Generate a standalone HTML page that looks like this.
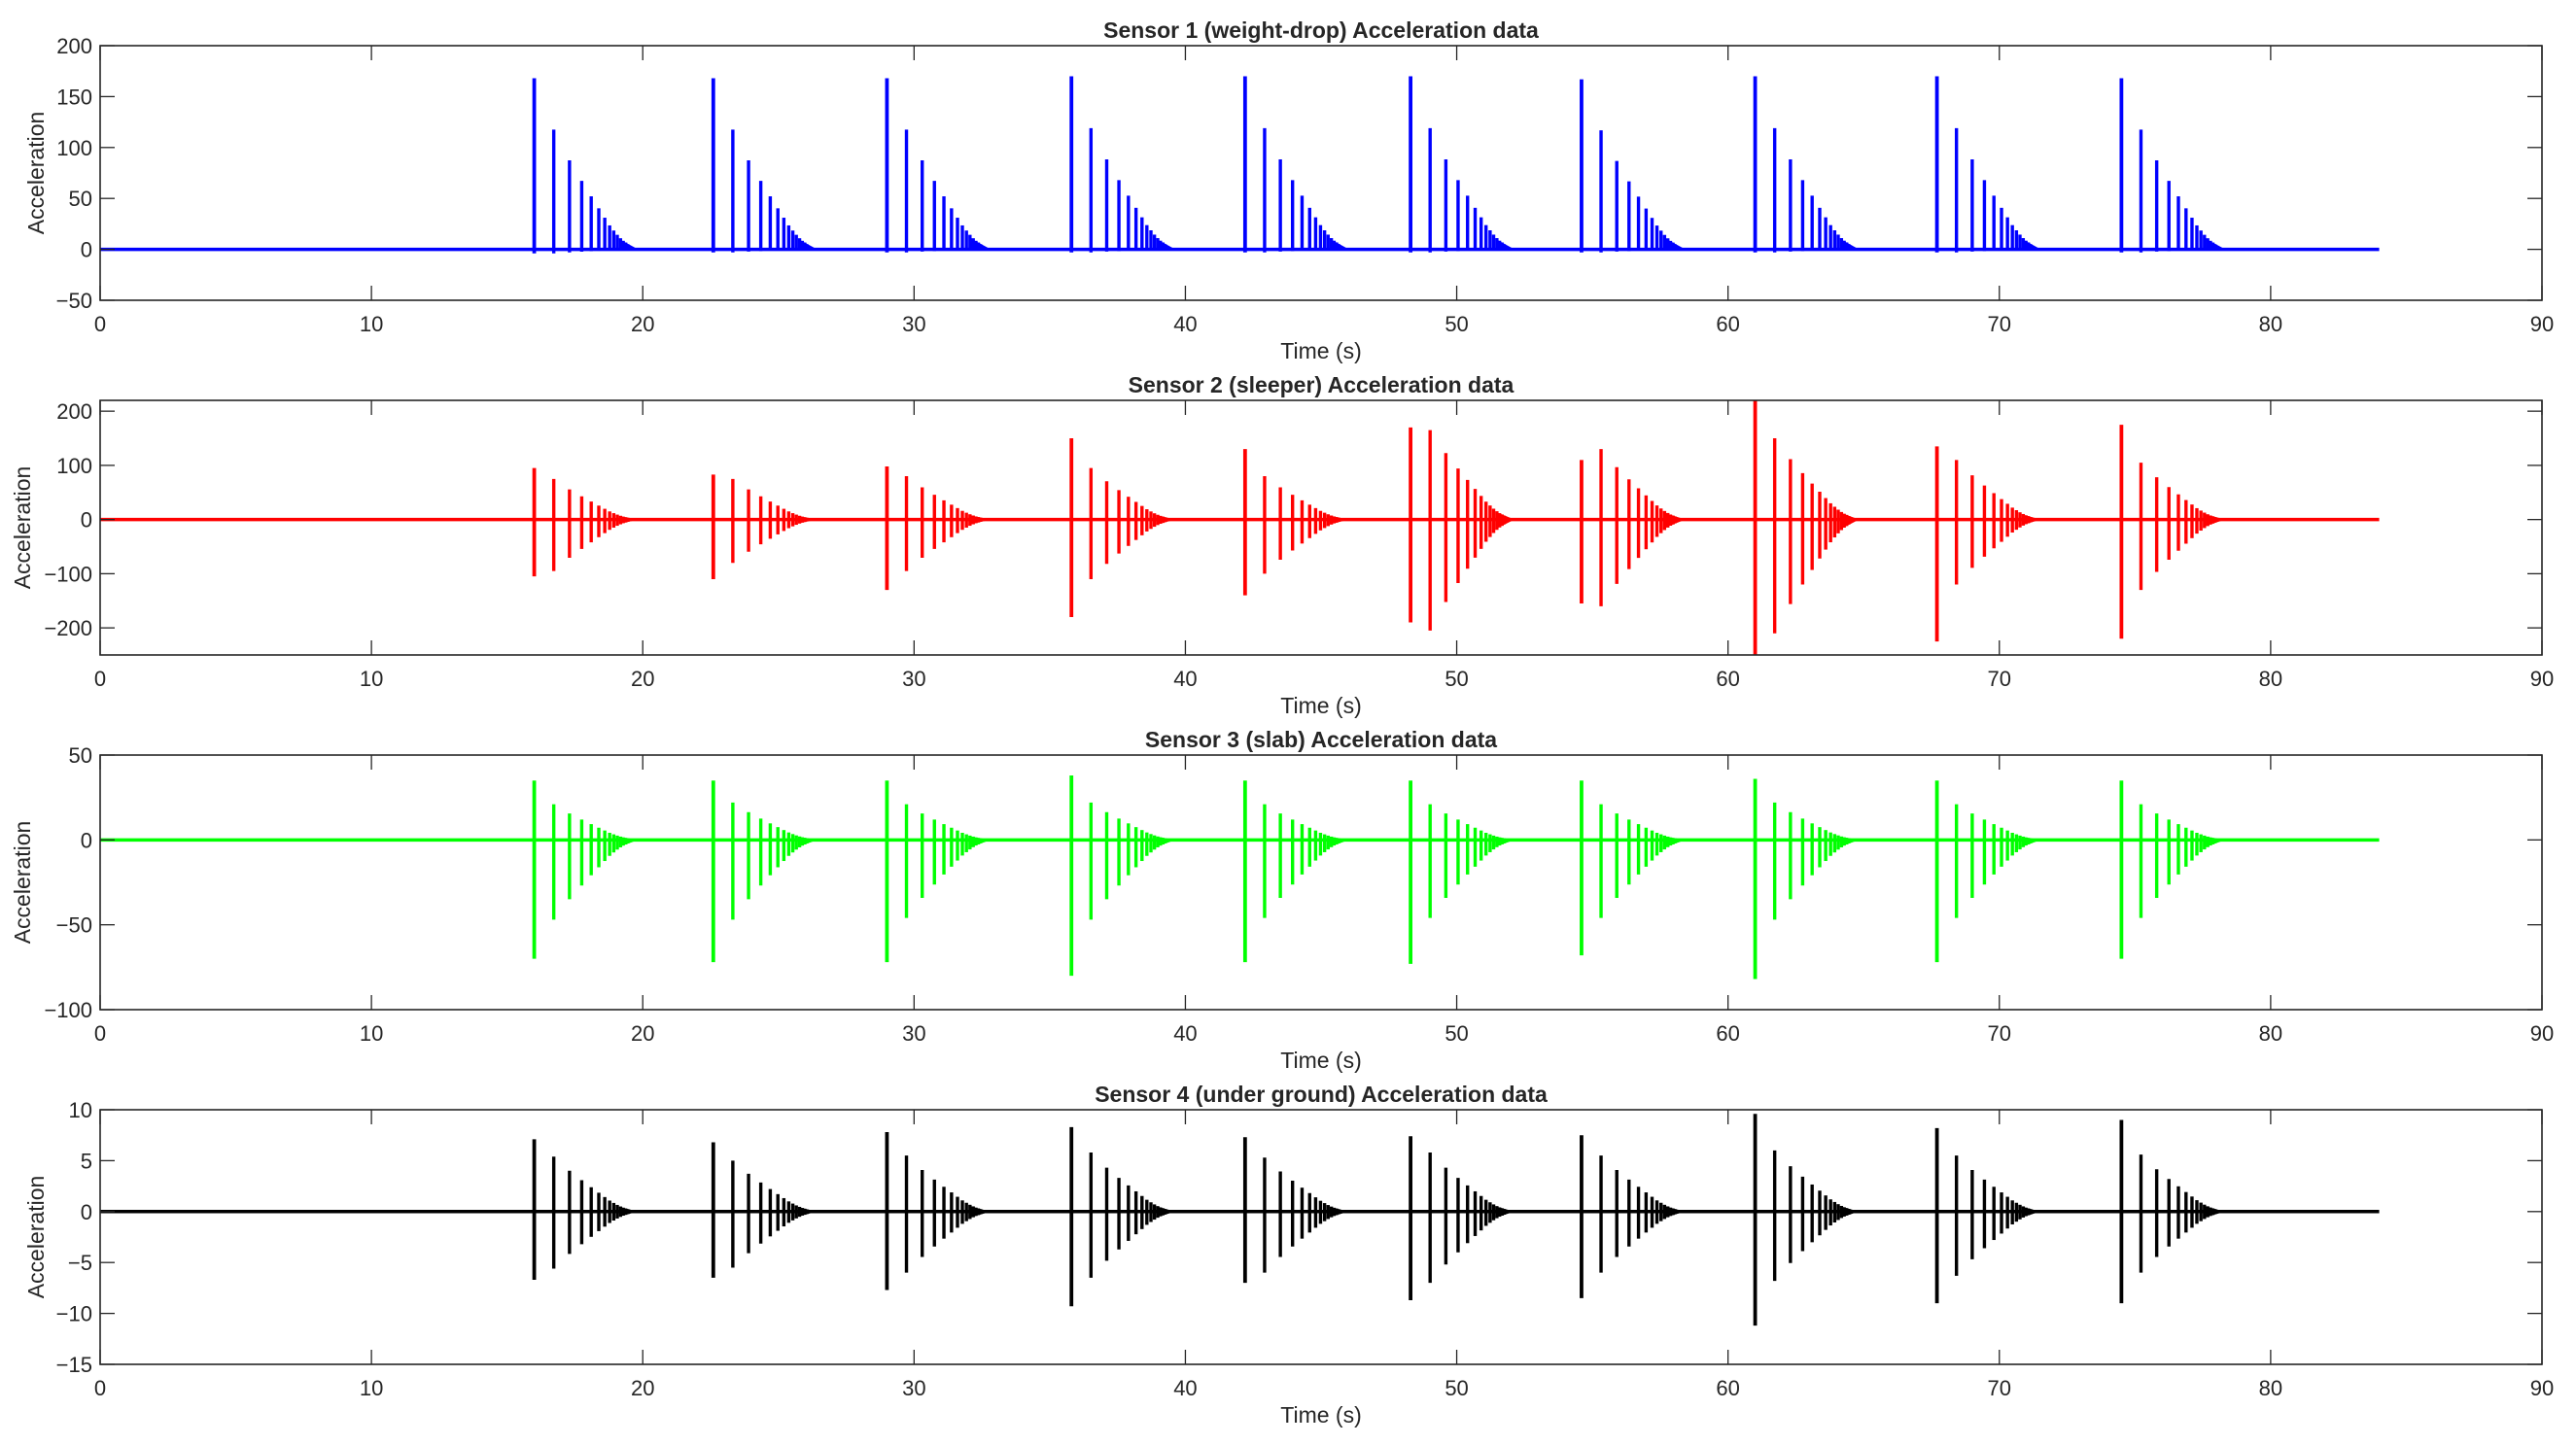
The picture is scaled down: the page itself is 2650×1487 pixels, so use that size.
<!DOCTYPE html>
<html><head><meta charset="utf-8">
<style>
html,body{margin:0;padding:0;background:#fff;}
svg{display:block;}
text{font-family:"Liberation Sans",Arial,sans-serif;fill:#262626;}
</style></head>
<body>
<svg id="fig" width="2650" height="1487" viewBox="0 0 2650 1487" xmlns="http://www.w3.org/2000/svg"></svg>
<script>
// ---- data ----
const eventTimes = [16.0, 22.6, 29.0, 35.8, 42.2, 48.3, 54.6, 61.0, 67.7, 74.5];
const bounceOffsets = [0, 0.72, 1.3, 1.75, 2.1, 2.38, 2.6, 2.78, 2.93, 3.06, 3.18, 3.28, 3.37, 3.45, 3.52, 3.58];
const bounceShape = [1, 0.70, 0.52, 0.40, 0.31, 0.24, 0.185, 0.14, 0.11, 0.085, 0.065, 0.05, 0.04, 0.03, 0.02, 0.015];
const s1Pos = [168, 168, 168, 170, 170, 170, 167, 170, 170, 168];
const s1Neg = [-4, -3, -3, -3, -3, -3, -3, -3, -3, -3];
const s2Pos = [95, 83, 98, 150, 130, 170, 110, 220, 135, 175];
const s2Neg = [-105, -110, -130, -180, -140, -190, -155, -250, -225, -220];
const s2BouncePos = [75, 75, 80, 95, 80, 165, 130, 150, 110, 105];
const s2BounceNeg = [-95, -80, -95, -110, -100, -205, -160, -210, -120, -130];
const s3Pos = [35, 35, 35, 38, 35, 35, 35, 36, 35, 35];
const s3Neg = [-70, -72, -72, -80, -72, -73, -68, -82, -72, -70];
const s3BouncePos = [21, 22, 21, 22, 21, 21, 21, 22, 21, 21];
const s3BounceNeg = [-47, -47, -46, -47, -46, -46, -46, -47, -46, -46];
const s4Pos = [7.1, 6.8, 7.8, 8.3, 7.3, 7.4, 7.5, 9.6, 8.2, 9.0];
const s4Neg = [-6.7, -6.5, -7.7, -9.3, -7.0, -8.7, -8.5, -11.2, -9.0, -9.0];
const s4BouncePos = [5.4, 5.0, 5.5, 5.8, 5.3, 5.8, 5.5, 6.0, 5.5, 5.6];
const s4BounceNeg = [-5.6, -5.5, -6.0, -6.5, -6.0, -7.0, -6.0, -6.8, -6.3, -6.0];
const xTicks = [0, 10, 20, 30, 40, 50, 60, 70, 80, 90];
const dataEnd = 84;

const panels = [
  {title:"Sensor 1 (weight-drop) Acceleration data", color:"#0000ff", ymin:-50, ymax:200, yticks:[-50,0,50,100,150,200],
   pos:s1Pos, neg:s1Neg, bpos:s1Pos.map(v=>v*0.70), bneg:s1Neg, top:47, name:"sensor1"},
  {title:"Sensor 2 (sleeper) Acceleration data", color:"#ff0000", ymin:-250, ymax:220, yticks:[-200,-100,0,100,200],
   pos:s2Pos, neg:s2Neg, bpos:s2BouncePos, bneg:s2BounceNeg, top:412, name:"sensor2"},
  {title:"Sensor 3 (slab) Acceleration data", color:"#00ff00", ymin:-100, ymax:50, yticks:[-100,-50,0,50],
   pos:s3Pos, neg:s3Neg, bpos:s3BouncePos, bneg:s3BounceNeg, top:777, name:"sensor3"},
  {title:"Sensor 4 (under ground) Acceleration data", color:"#000000", ymin:-15, ymax:10, yticks:[-15,-10,-5,0,5,10],
   pos:s4Pos, neg:s4Neg, bpos:s4BouncePos, bneg:s4BounceNeg, top:1142, name:"sensor4"}
];

const NS="http://www.w3.org/2000/svg";
const svg=document.getElementById('fig');
const L=103, R=2615, H=262, XMIN=0, XMAX=90, TK=15;
function xs(v){return L+(v-XMIN)/(XMAX-XMIN)*(R-L);}
function mk(tag,attrs,parent){const e=document.createElementNS(NS,tag);for(const k in attrs)e.setAttribute(k,attrs[k]);(parent||svg).appendChild(e);return e;}

panels.forEach((p,pi)=>{
  const T=p.top, B=T+H;
  const ys=v=>B-(v-p.ymin)/(p.ymax-p.ymin)*H;
  const g=mk('g',{});
  
  
  const clipId='clip'+pi;
  const cp=mk('clipPath',{id:clipId},g);
  mk('rect',{x:L,y:T,width:R-L,height:H},cp);
  const sg=mk('g',{'clip-path':'url(#'+clipId+')',stroke:p.color,fill:'none'},g);
  
  
  const base=mk('line',{x1:xs(0),x2:xs(dataEnd),y1:ys(0),y2:ys(0),'stroke-width':3.5},sg);
  
  
  eventTimes.forEach((t,ei)=>{
    bounceOffsets.forEach((o,bi)=>{
      let hi, lo;
      if(bi===0){hi=p.pos[ei];lo=p.neg[ei];}
      else{hi=p.bpos[ei]*bounceShape[bi]/bounceShape[1];lo=p.bneg[ei]*bounceShape[bi]/bounceShape[1];}
      const ln=mk('line',{x1:xs(t+o),x2:xs(t+o),y1:ys(hi),y2:ys(lo),'stroke-width':bi===0?3.8:3.4},sg);
      
      
    });
    const tl=mk('polygon',{points:[xs(t+bounceOffsets[10]),ys(p.bpos[ei]*0.08),xs(t+bounceOffsets[15]+0.25),ys(0),xs(t+bounceOffsets[10]),ys(p.bneg[ei]*0.08)].join(','),fill:p.color,stroke:'none'},sg);
    
    
  });
  const box=mk('rect',{x:L,y:T,width:R-L,height:H,fill:'none',stroke:'#262626','stroke-width':1.6},g);
  
  
  xTicks.forEach(v=>{
    const x=xs(v);
    mk('line',{x1:x,x2:x,y1:B,y2:B-TK,stroke:'#262626','stroke-width':1.3},g);
    mk('line',{x1:x,x2:x,y1:T,y2:T+TK,stroke:'#262626','stroke-width':1.3},g);
    const tx=mk('text',{x:x,y:B+32,'text-anchor':'middle','font-size':22},g);
    tx.textContent=v;
    
    
  });
  p.yticks.forEach(v=>{
    const y=ys(v);
    mk('line',{x1:L,x2:L+TK,y1:y,y2:y,stroke:'#262626','stroke-width':1.3},g);
    mk('line',{x1:R,x2:R-TK,y1:y,y2:y,stroke:'#262626','stroke-width':1.3},g);
    const tx=mk('text',{x:L-8,y:y+8,'text-anchor':'end','font-size':22},g);
    tx.textContent=(v<0?'\u2212'+(-v):v);
    
    
  });
  const xl=mk('text',{x:(L+R)/2,y:B+60,'text-anchor':'middle','font-size':23},g);
  xl.textContent='Time (s)';
  
  
  const yx=L-(pi===0||pi===3?58:72), yy=(T+B)/2;
  const yl=mk('text',{x:yx,y:yy,'text-anchor':'middle','font-size':23,transform:'rotate(-90 '+yx+' '+yy+')'},g);
  yl.textContent='Acceleration';
  
  
  const tt=mk('text',{x:(L+R)/2,y:T-8,'text-anchor':'middle','font-size':23,'font-weight':'bold'},g);
  tt.textContent=p.title;
  
  
});
</script>
</body></html>
